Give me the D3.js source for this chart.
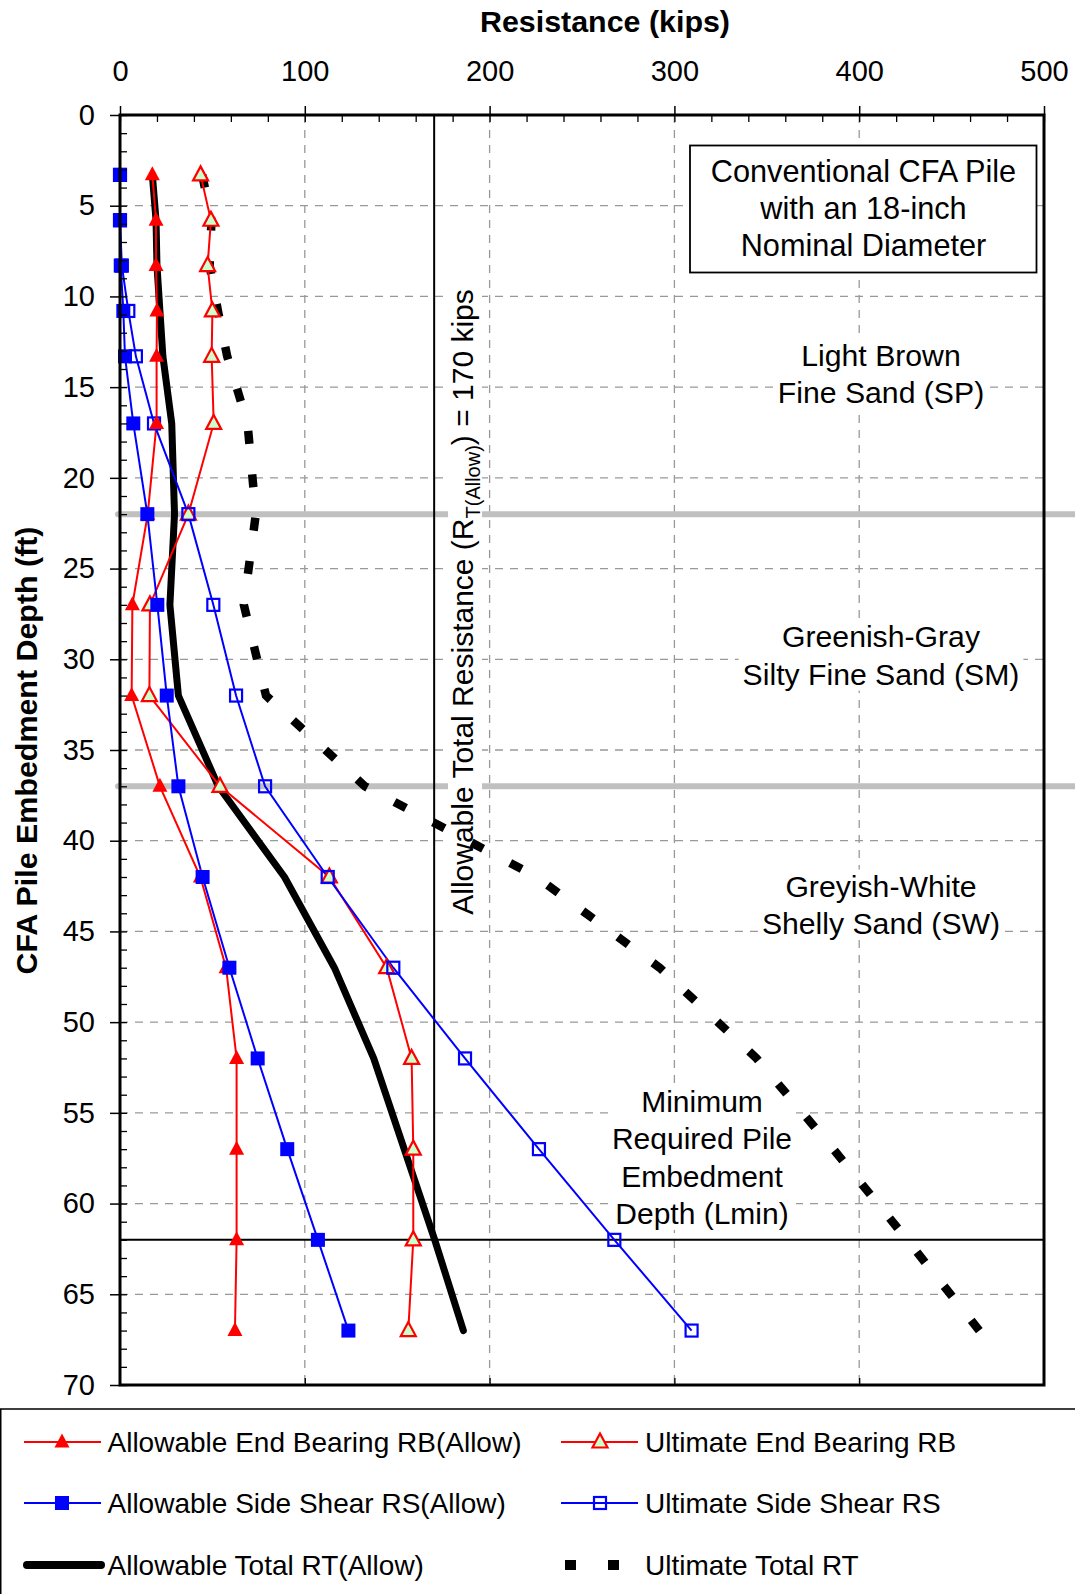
<!DOCTYPE html>
<html><head><meta charset="utf-8">
<script src="https://cdn.jsdelivr.net/npm/d3@7"></script>
<style>
html,body{margin:0;padding:0;background:#fff;}
text{font-family:"Liberation Sans",Arial,sans-serif;fill:#000;}
</style></head>
<body>
<svg id="c" width="1075" height="1594"></svg>
<script>
// ---- data ----
const depths   = [3.3,5.8,8.3,10.8,13.3,17,22,27,32,37,42,47,52,57,62,67];
const allowEB  = [17.5,19.5,19.5,20,19.8,19.8,15,6.7,6.3,21.6,43.5,57.4,63.1,63.1,63.1,62.2];
const ultEB    = [43.6,49.2,47.4,50,49.6,50.7,37,16.2,15.9,54.1,113.3,144.3,157.8,158.7,158.7,156];
const allowSS  = [0,0,0.4,1.8,2.7,7.2,14.8,20.2,25.3,31.6,44.7,59.2,74.5,90.5,107.1,123.6];
const ultSS    = [0,0,1,4.5,8.6,18.4,37,50.5,62.8,78.5,112.4,147.9,186.7,226.7,267.5,309.3];
const allowRT  = [17.5,19.5,20,21.6,23.2,28,29.5,27,31.6,53.2,89,116,137.3,153.8,170.3,185.8];
const ultRT    = [44.5,49.5,48.5,53,58,69,73.5,67,79,132.5,225.5,292,344.5,386,426,465];
const xTicks = [0,100,200,300,400,500];
const yTicks = [0,5,10,15,20,25,30,35,40,45,50,55,60,65,70];
const allowableRT = 170;   // kips
const lminDepth = 62;      // ft
const layerBounds = [22,37];
const legendLabels = ["Allowable End Bearing RB(Allow)","Ultimate End Bearing RB",
  "Allowable Side Shear RS(Allow)","Ultimate Side Shear RS",
  "Allowable Total RT(Allow)","Ultimate Total RT"];

(function(){
const svg = d3.select("#c");
const x = d3.scaleLinear().domain([0,500]).range([120,1044]);
const y = d3.scaleLinear().domain([0,70]).range([115,1385]);
const RED="#ff0000", BLUE="#0000ff";

// grid
const grid = svg.append("g");
grid.selectAll("line.v").data([100,200,300,400]).join("line")
  .attr("x1",d=>x(d)).attr("x2",d=>x(d)).attr("y1",y(0)).attr("y2",y(70))
  .attr("stroke","#999").attr("stroke-width",1.3).attr("stroke-dasharray","8,7");
grid.selectAll("line.h").data(d3.range(5,70,5)).join("line")
  .attr("x1",x(0)).attr("x2",x(500)).attr("y1",d=>y(d)).attr("y2",d=>y(d))
  .attr("stroke","#999").attr("stroke-width",1.3).attr("stroke-dasharray","8,7");

// layer boundaries
svg.selectAll("line.layer").data(layerBounds).join("line")
  .attr("x1",x(0)-2).attr("x2",1080).attr("y1",d=>y(d)).attr("y2",d=>y(d))
  .attr("stroke","#c0c0c0").attr("stroke-width",6).attr("stroke-linecap","round");

// allowable RT vertical and Lmin horizontal
svg.append("line").attr("x1",x(allowableRT)).attr("x2",x(allowableRT))
  .attr("y1",y(0)).attr("y2",y(lminDepth)).attr("stroke","#000").attr("stroke-width",2);
svg.append("line").attr("x1",x(0)).attr("x2",x(500))
  .attr("y1",y(lminDepth)).attr("y2",y(lminDepth)).attr("stroke","#000").attr("stroke-width",2);

// text labels with white backgrounds
function label(lines, cx, cy0, step, size){
  const g = svg.append("g");
  const rect = g.append("rect").attr("fill","#fff");
  const t = g.append("text").attr("text-anchor","middle").attr("font-size",size);
  lines.forEach((s,i)=>t.append("tspan").attr("x",cx).attr("y",cy0+i*step).attr("dy","0.35em").text(s));
  const b = t.node().getBBox();
  rect.attr("x",b.x-4).attr("y",b.y).attr("width",b.width+8).attr("height",b.height);
  return g;
}
// box
const boxG = svg.append("g");
boxG.append("rect").attr("x",690).attr("y",145.5).attr("width",346.5).attr("height",127)
  .attr("fill","#fff").attr("stroke","#000").attr("stroke-width",1.8);
const bt = boxG.append("text").attr("text-anchor","middle").attr("font-size",30.7);
["Conventional CFA Pile","with an 18-inch","Nominal Diameter"].forEach((s,i)=>
  bt.append("tspan").attr("x",863.5).attr("y",171+i*37).attr("dy","0.35em").text(s));

label(["Light Brown","Fine Sand (SP)"],881,355,37.5,30.2);
label(["Greenish-Gray","Silty Fine Sand (SM)"],881,636.5,37.5,30.2);
label(["Greyish-White","Shelly Sand (SW)"],881,886,37.5,30.2);
label(["Minimum","Required Pile","Embedment","Depth (Lmin)"],702,1101.5,37.3,30);

// rotated allowable label
{
  const g = svg.append("g").attr("transform","translate(473,602) rotate(-90)");
  const rect = g.append("rect").attr("fill","#fff");
  const t = g.append("text").attr("text-anchor","middle").attr("font-size",30).attr("x",0).attr("y",0);
  t.append("tspan").text("Allowable Total Resistance (R");
  t.append("tspan").attr("font-size",20).attr("dy",7).text("T(Allow)");
  t.append("tspan").attr("dy",-7).text(") = 170 kips");
  const b = t.node().getBBox();
  rect.attr("x",b.x-2).attr("y",b.y+2).attr("width",b.width+4).attr("height",b.height-4);
}

// series lines
const line = d3.line().x(d=>x(d[0])).y(d=>y(d[1]));
const pts = arr => arr.map((v,i)=>[v,depths[i]]);
const ultPath = svg.append("path").attr("d",line(pts(ultRT))).attr("fill","none").attr("stroke","#000")
  .attr("stroke-width",8.5);
{
  const L = ultPath.node().getTotalLength(), dash = 13;
  const n = Math.round((L-dash)/44), P = (L-dash)/n;
  ultPath.attr("stroke-dasharray",`${dash},${P-dash}`);
}
svg.append("path").attr("d",line(pts(allowRT))).attr("fill","none").attr("stroke","#000")
  .attr("stroke-width",7).attr("stroke-linejoin","round").attr("stroke-linecap","round");
[[allowEB,RED],[ultEB,RED],[allowSS,BLUE],[ultSS,BLUE]].forEach(([a,c])=>
  svg.append("path").attr("d",line(pts(a))).attr("fill","none").attr("stroke",c).attr("stroke-width",2));

// markers
const tri = "M0,-8.5L7.5,5.5L-7.5,5.5Z";
function triangles(arr, fill, stroke, sw){
  svg.append("g").selectAll("path").data(pts(arr)).join("path")
    .attr("d",tri).attr("transform",d=>`translate(${x(d[0])},${y(d[1])})`)
    .attr("fill",fill).attr("stroke",stroke).attr("stroke-width",sw);
}
function squares(arr, fill, stroke, sw, s){
  svg.append("g").selectAll("rect").data(pts(arr)).join("rect")
    .attr("x",d=>x(d[0])-s/2).attr("y",d=>y(d[1])-s/2).attr("width",s).attr("height",s)
    .attr("fill",fill).attr("stroke",stroke).attr("stroke-width",sw);
}
triangles(ultEB,"#ccffcc",RED,2.2);
squares(ultSS,"none",BLUE,2.2,12);
triangles(allowEB,RED,"none",0);
squares(allowSS,BLUE,"none",0,14);

// axes
const fmt = d3.format("d");
const topAx = svg.append("g").attr("transform",`translate(0,${y(0)})`)
  .call(d3.axisTop(x).tickValues(xTicks).tickSize(9).tickSizeOuter(0).tickPadding(25).tickFormat(fmt));
topAx.call(g=>g.select(".domain").remove());
topAx.selectAll("text").attr("font-size",29).attr("font-family","Liberation Sans, Arial");
topAx.selectAll("line").attr("stroke-width",1.5);
svg.append("g").attr("transform",`translate(0,${y(0)})`)
  .call(d3.axisTop(x).tickValues(d3.range(0,501,20)).tickSize(-7).tickSizeOuter(0).tickFormat(""))
  .call(g=>g.select(".domain").remove()).selectAll("line").attr("stroke-width",1.3);

const leftAx = svg.append("g").attr("transform",`translate(${x(0)},0)`)
  .call(d3.axisLeft(y).tickValues(yTicks).tickSize(10).tickSizeOuter(0).tickPadding(15).tickFormat(fmt));
leftAx.call(g=>g.select(".domain").remove());
leftAx.selectAll("text").attr("font-size",29).attr("font-family","Liberation Sans, Arial");
leftAx.selectAll("line").attr("stroke-width",1.5);
svg.append("g").attr("transform",`translate(${x(0)},0)`)
  .call(d3.axisLeft(y).tickValues(d3.range(0,71,1)).tickSize(-7).tickSizeOuter(0).tickFormat(""))
  .call(g=>g.select(".domain").remove()).selectAll("line").attr("stroke-width",1.3);
svg.append("g").attr("transform",`translate(0,${y(70)})`)
  .call(d3.axisBottom(x).tickValues([100,200,300,400]).tickSize(-7).tickSizeOuter(0).tickFormat(""))
  .call(g=>g.select(".domain").remove()).selectAll("line").attr("stroke-width",1.3);

// frame
svg.append("rect").attr("x",x(0)).attr("y",y(0)).attr("width",x(500)-x(0)).attr("height",y(70)-y(0))
  .attr("fill","none").attr("stroke","#000").attr("stroke-width",3);

// titles
svg.append("text").attr("x",605).attr("y",21).attr("dy","0.35em").attr("text-anchor","middle")
  .attr("font-size",30.4).attr("font-weight","bold").text("Resistance (kips)");
svg.append("text").attr("transform","translate(26,750.5) rotate(-90)").attr("dy","0.35em")
  .attr("text-anchor","middle").attr("font-size",30.4).attr("font-weight","bold")
  .text("CFA Pile Embedment Depth (ft)");

// legend
const lg = svg.append("g");
lg.append("rect").attr("x",0.75).attr("y",1409).attr("width",1080).attr("height",200)
  .attr("fill","#fff").attr("stroke","#000").attr("stroke-width",1.5);
const rows=[1442,1503,1565], cols=[[24,101,62,107.5],[561,638,600,645]];
legendLabels.forEach((lab,i)=>{
  const r=rows[Math.floor(i/2)], c=cols[i%2];
  const g=lg.append("g");
  if(i<4){
    const col = i<2?RED:BLUE;
    g.append("line").attr("x1",c[0]).attr("x2",c[1]).attr("y1",r).attr("y2",r).attr("stroke",col).attr("stroke-width",2);
    if(i===0) g.append("path").attr("d",tri).attr("transform",`translate(${c[2]},${r})`).attr("fill",RED);
    if(i===1) g.append("path").attr("d",tri).attr("transform",`translate(${c[2]},${r})`).attr("fill","#ccffcc").attr("stroke",RED).attr("stroke-width",2.2);
    if(i===2) g.append("rect").attr("x",c[2]-7).attr("y",r-7).attr("width",14).attr("height",14).attr("fill",BLUE);
    if(i===3) g.append("rect").attr("x",c[2]-6).attr("y",r-6).attr("width",12).attr("height",12).attr("fill","none").attr("stroke",BLUE).attr("stroke-width",2.2);
  } else if(i===4){
    g.append("line").attr("x1",c[0]+3).attr("x2",c[1]).attr("y1",r).attr("y2",r).attr("stroke","#000").attr("stroke-width",8).attr("stroke-linecap","round");
  } else {
    g.append("line").attr("x1",565).attr("x2",640).attr("y1",r).attr("y2",r).attr("stroke","#000").attr("stroke-width",10).attr("stroke-dasharray","11,32");
  }
  g.append("text").attr("x",c[3]).attr("y",r).attr("dy","0.35em").attr("font-size",28).text(lab);
});
})();
</script>
</body></html>
